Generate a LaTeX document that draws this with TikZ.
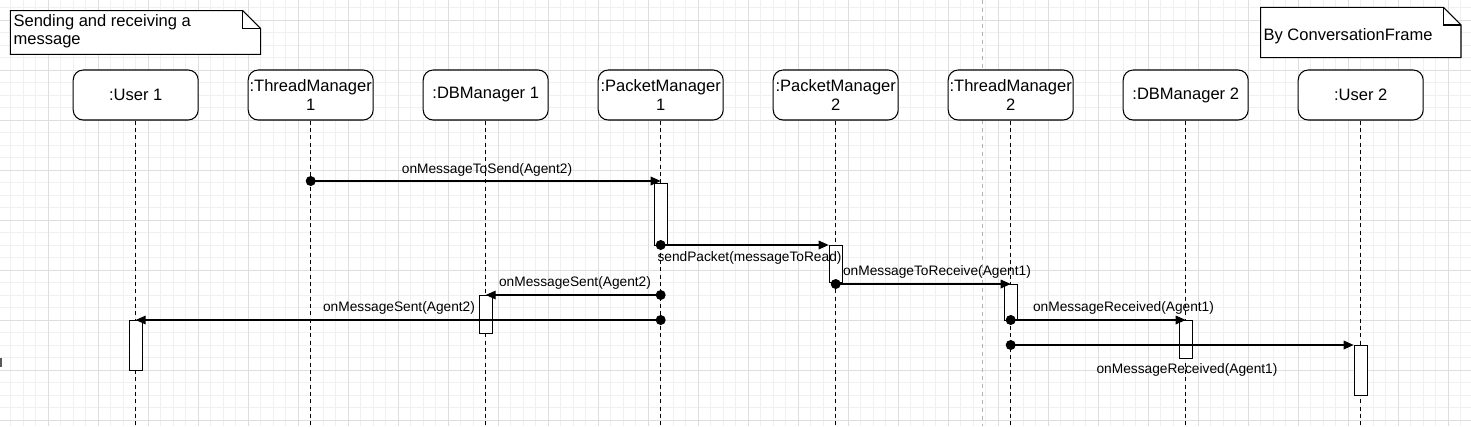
\documentclass[tikz,border=0pt]{standalone}
\usepackage{fontspec}
\setmainfont{Liberation Sans}
\usetikzlibrary{arrows.meta}
\begin{document}
\begin{tikzpicture}[x=0.75pt,y=-0.75pt,
  every node/.style={font=\fontsize{10.3}{13.3}\selectfont},
  bigfont/.style={font=\fontsize{12.4}{13.6}\selectfont},
  minorgrid/.style={black!6, line width=0.75pt},
  majorgrid/.style={black!13, line width=0.75pt},
  head/.style={draw, rounded corners=7.5pt, fill=white, minimum width=93.75pt, minimum height=37.5pt, inner sep=0pt, align=center, line width=0.8pt, bigfont},
  lifeline/.style={line width=0.9pt, dash pattern=on 3pt off 2.5pt},
  act/.style={draw, fill=white, minimum width=9.75pt, inner sep=0pt, anchor=north, line width=0.8pt},
  msg/.style={line width=0.9pt, -{Triangle[length=7.5pt,width=6.5pt]}},
  dot/.style={circle, fill=black, minimum size=7.5pt, inner sep=0pt},
  lbl/.style={inner sep=0pt},
  note/.style={line width=0.8pt, fill=white},
]
\useasboundingbox (0,0) rectangle (1471,426);
\fill[white] (0,0) rectangle (1471,426);
% grid
\foreach \x in {10.8,23.3,...,1471} \draw[minorgrid] (\x,0) -- (\x,426);
\foreach \y in {7.5,20,...,426} \draw[minorgrid] (0,\y) -- (1471,\y);
\foreach \x in {48.3,98.3,...,1471} \draw[majorgrid] (\x,0) -- (\x,426);
\foreach \y in {20,70,...,426} \draw[majorgrid] (0,\y) -- (1471,\y);
\draw[black!30, dash pattern=on 3pt off 3pt, line width=0.8pt] (982.3,0) -- (982.3,426);
\fill[black!65] (0,358) rectangle (2.2,367);
\coordinate (bot) at (0,426);
% notes
\draw[note] (10.3,10.7) -- (242.7,10.7) -- (260.7,28.5) -- (260.7,54.3) -- (10.3,54.3) -- cycle;
\draw[line width=0.8pt] (242.7,10.7) -- (242.7,28.5) -- (260.7,28.5);
\node[lbl, bigfont, anchor=west, align=left] (n1) at (13.3,31.2) {Sending and receiving a\\message};
\draw[note] (1260.7,7.3) -- (1443.3,7.3) -- (1461,25) -- (1461,57.7) -- (1260.7,57.7) -- cycle;
\draw[line width=0.8pt] (1443.3,7.3) -- (1443.3,25) -- (1461,25);
\node[lbl, bigfont, anchor=west] (n2) at (1263.3,36.7) {By ConversationFrame};
% heads
\node[head] (u1) at (135.7,95) {:User 1};
\node[head] (tm1) at (310.7,95) {:ThreadManager\\1};
\node[head] (db1) at (485.7,95) {:DBManager 1};
\node[head] (pm1) at (660.7,95) {:PacketManager\\1};
\node[head] (pm2) at (835.7,95) {:PacketManager\\2};
\node[head] (tm2) at (1010.7,95) {:ThreadManager\\2};
\node[head] (db2) at (1185.7,95) {:DBManager 2};
\node[head] (u2) at (1360.7,95) {:User 2};
\foreach \h in {u1,tm1,db1,pm1,pm2,tm2,db2,u2}
  \draw[lifeline] (\h.south) -- (\h.south |- bot);
% activation bars
\node[act, minimum height=46.9pt] (a1) at (660.7,182.5) {};
\node[act, minimum height=27.75pt] (a2) at (835.7,245) {};
\node[act, minimum height=27.4pt] (a3) at (1010.7,283.5) {};
\node[act, minimum height=28.3pt] (a4) at (485.7,295) {};
\node[act, minimum height=37.5pt] (a5) at (135.7,320) {};
\node[act, minimum height=28.3pt] (a6) at (1185.7,320) {};
\node[act, minimum height=37.5pt] (a7) at (1360.7,345.3) {};
% labels
\node[lbl] (l1) at (487,170) {onMessageToSend(Agent2)};
\node[lbl] (l2) at (749.5,258) {sendPacket(messageToRead)};
\node[lbl] (l3) at (937,272) {onMessageToReceive(Agent1)};
\node[lbl] (l4) at (575,283) {onMessageSent(Agent2)};
\node[lbl] (l5) at (399,308) {onMessageSent(Agent2)};
\node[lbl] (l6) at (1123.5,308) {onMessageReceived(Agent1)};
\node[lbl] (l7) at (1187,370) {onMessageReceived(Agent1)};
% message starts
\node[dot] (s1) at (310.7,181) {};
\node[dot] (s2) at (660.7,245) {};
\node[dot] (s3) at (835.7,284) {};
\node[dot] (s4) at (660.7,295) {};
\node[dot] (s5) at (660.7,320) {};
\node[dot] (s6) at (1010.7,320) {};
\node[dot] (s7) at (1010.7,345) {};
% messages
\draw[msg] (s1.center) -- (s1.center -| a1.center);
\draw[msg] (s2.center) -- (s2.center -| a2.west);
\draw[msg] (s3.center) -- (s3.center -| a3.center);
\draw[msg] (s4.center) -- (s4.center -| a4.center);
\draw[msg] (s5.center) -- (s5.center -| a5.center);
\draw[msg] (s6.center) -- (s6.center -| a6.center);
\draw[msg] (s7.center) -- (s7.center -| a7.west);
\end{tikzpicture}
\end{document}
